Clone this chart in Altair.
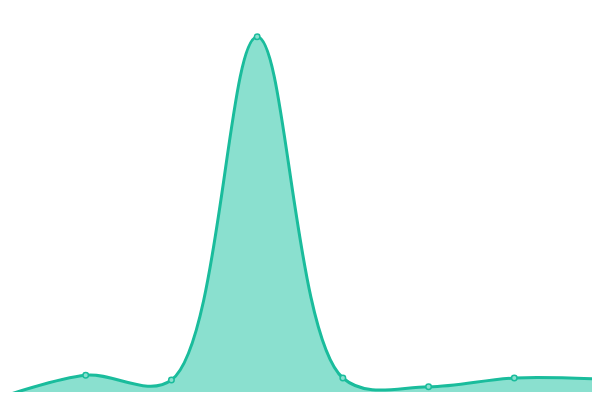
import altair as alt
import pandas as pd

xs = [0, 1, 2, 3, 4, 5, 6, 7]
values = [0.6, 6.2, 5.0, 90.8, 5.5, 3.3, 5.5, 5.2]

df = pd.DataFrame({"x": xs, "v": values})

# The page has an 8px margin; the domains are trimmed so that the data keep
# the same on-screen positions as a full-bleed 600x400 chart.
xenc = alt.X("x:Q", axis=None, scale=alt.Scale(domain=[8 / (600 / 7), 592 / (600 / 7)], nice=False, zero=False))
yenc = alt.Y("v:Q", axis=None, scale=alt.Scale(domain=[2, 98], nice=False, zero=False))

base = alt.Chart(df).encode(x=xenc, y=yenc)

area = base.mark_area(interpolate="catmull-rom", color="#8ae0cf", opacity=1, clip=True)
line = base.mark_line(interpolate="catmull-rom", color="#1abc9c", strokeWidth=3, clip=True)
pts = base.mark_point(filled=True, fill="#8ae0cf", stroke="#1abc9c", strokeWidth=1.5,
                      size=30, opacity=1, clip=True)

chart = (area + line + pts).properties(
    width=584, height=384,
    autosize=alt.AutoSizeParams(type="none"),
    padding=0,
).configure_view(stroke=None)

chart.save("out.html", embed_options={"renderer": "svg", "actions": False})
